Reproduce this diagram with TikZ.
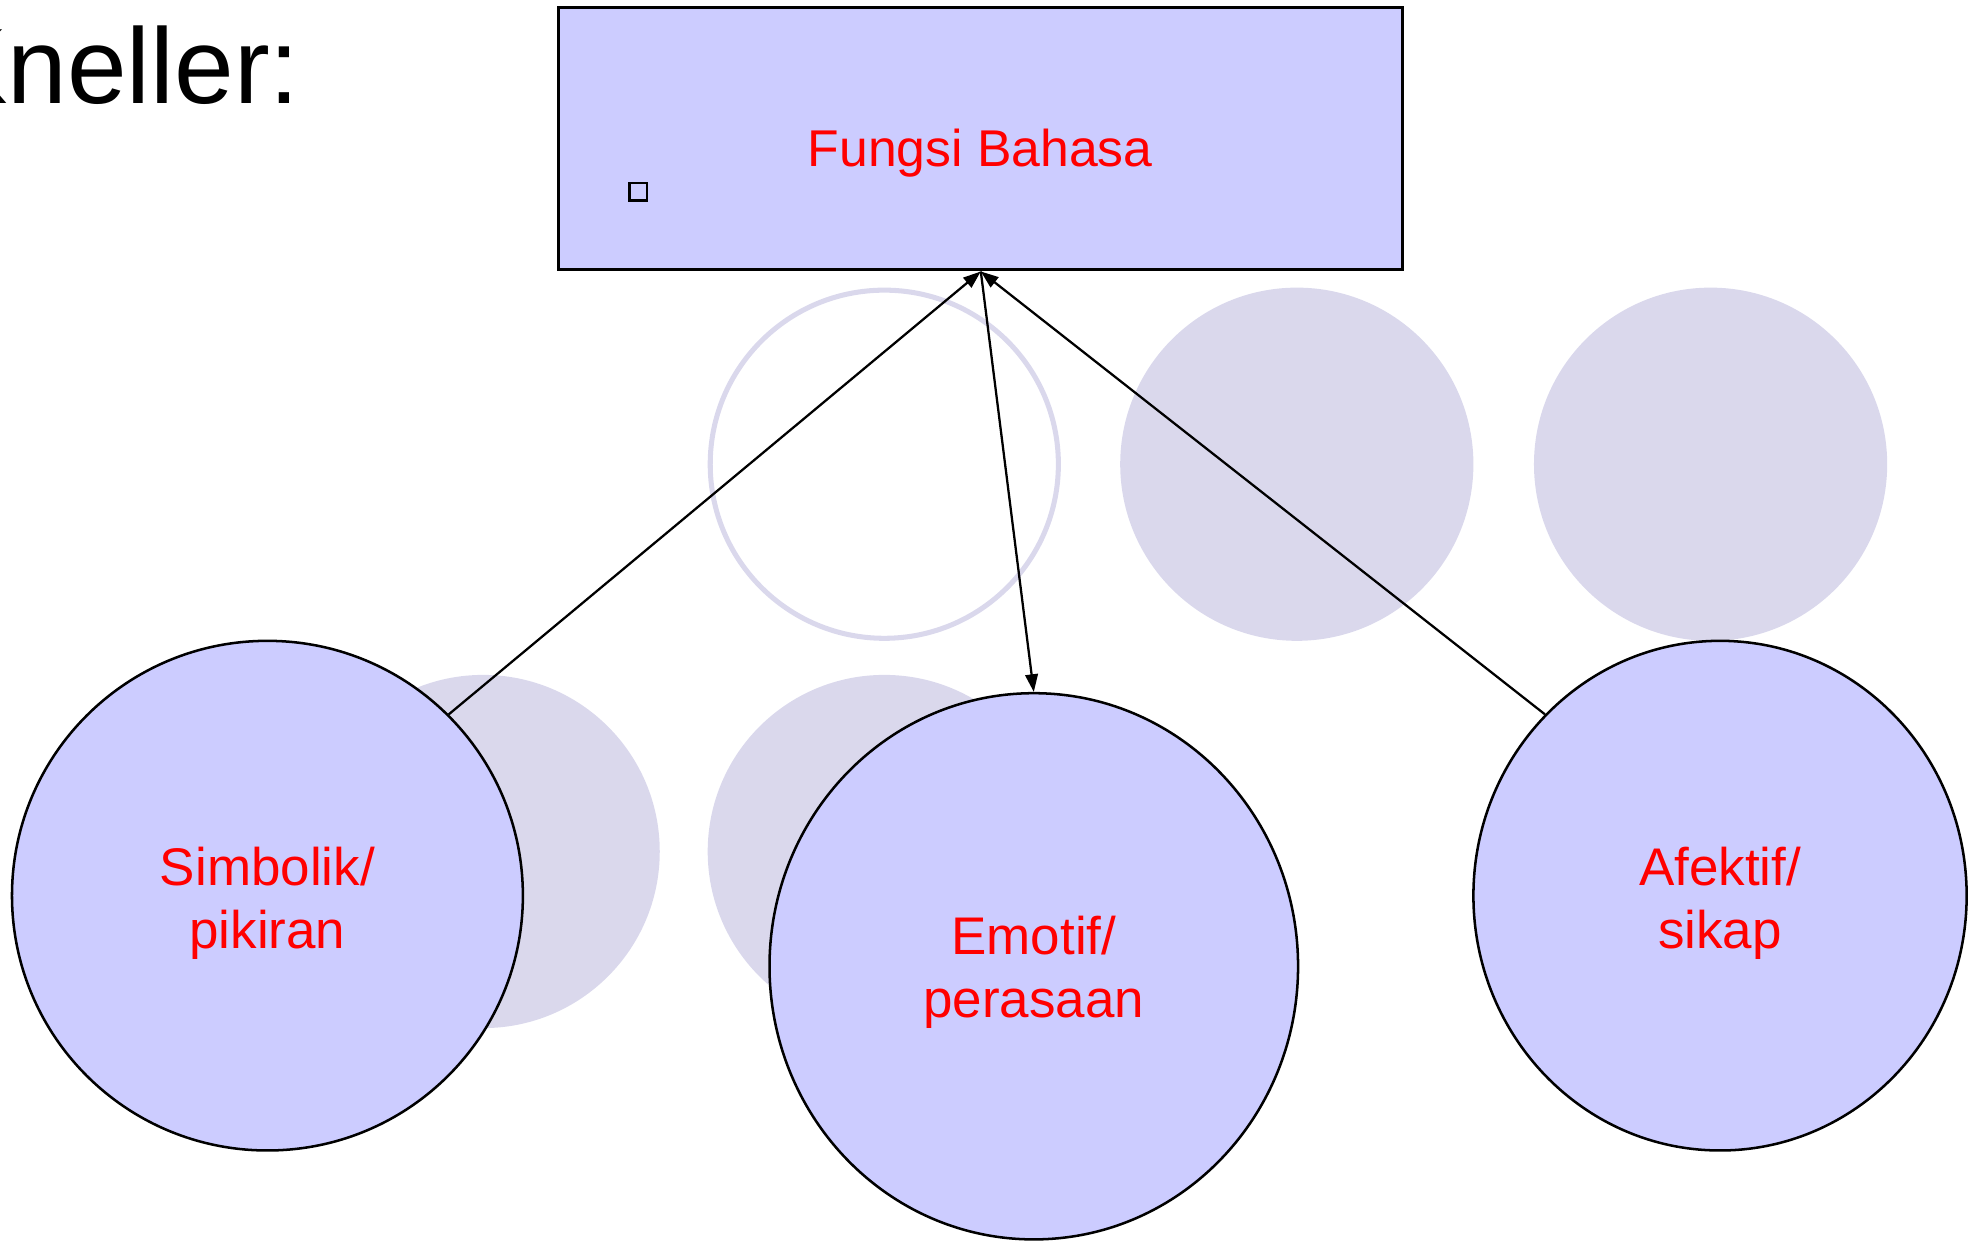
\documentclass[tikz,border=0pt]{standalone}
\usepackage{fontspec}
\setmainfont{Liberation Sans}
\usetikzlibrary{shapes.geometric,arrows.meta}
\definecolor{boxfill}{HTML}{CCCCFF}
\definecolor{faint}{HTML}{DAD8EC}
\definecolor{lbl}{HTML}{FF0000}
\begin{document}
\begin{tikzpicture}[x=0.5pt,y=-0.5pt,
  faintdisc/.style={circle, fill=faint, minimum size=140pt, inner sep=0pt},
  faintring/.style={circle, draw=faint, line width=2pt, minimum size=138pt, inner sep=0pt},
  topic/.style={ellipse, draw=black, line width=1pt, fill=boxfill, inner sep=0pt,
                text=lbl, font=\fontsize{21}{25}\selectfont, align=center},
  topictext/.style={text=lbl, font=\fontsize{21}{25}\selectfont, align=center, inner sep=0pt},
  link/.style={-{Triangle[length=7pt,width=5pt]}, line width=0.9pt}]
\useasboundingbox (0,0) rectangle (1568,984);

% title
\node[anchor=base east, inner sep=0pt, font=\fontsize{42.5}{50}\selectfont] (title) at (238,82) {Kneller:};

% header box
\node[draw=black, line width=1.2pt, fill=boxfill, minimum width=334.5pt, minimum height=104pt, inner sep=0pt] (fb) at (777.5,110) {};
\node[anchor=base, inner sep=0pt, text=lbl, font=\fontsize{20.5}{24}\selectfont] (fbt) at (777,132) {Fungsi Bahasa};
\node[draw=black, line width=0.9pt, minimum size=7pt, inner sep=0pt] (tick) at (506,152) {};

% faint background circles
\node[faintring] (r1) at (701,368) {};
\node[faintdisc] (d1) at (1028,368) {};
\node[faintdisc] (d2) at (1356,368) {};
\node[faintdisc] (d3) at (383,675) {};
\node[faintdisc] (d4) at (701,675) {};

% main circles
\node[topic, minimum width=202.5pt, minimum height=202pt] (simb) at (212,710) {};
\node[topic, minimum width=209.5pt, minimum height=216.5pt] (emo) at (819.5,766) {};
\node[topic, minimum width=195.5pt, minimum height=202pt] (afek) at (1363.5,710) {};
\node[topictext] (simbt) at (212,716) {Simbolik/\\pikiran};
\node[topictext] (emot) at (819.5,771) {Emotif/\\perasaan};
\node[topictext] (afekt) at (1363.5,716) {Afektif/\\sikap};

% connectors
\draw[link] (simb.45) -- (fb.south);
\draw[link] (afek.134) -- (fb.south);
\draw[link] (fb.south) -- (emo.north);
\end{tikzpicture}
\end{document}
